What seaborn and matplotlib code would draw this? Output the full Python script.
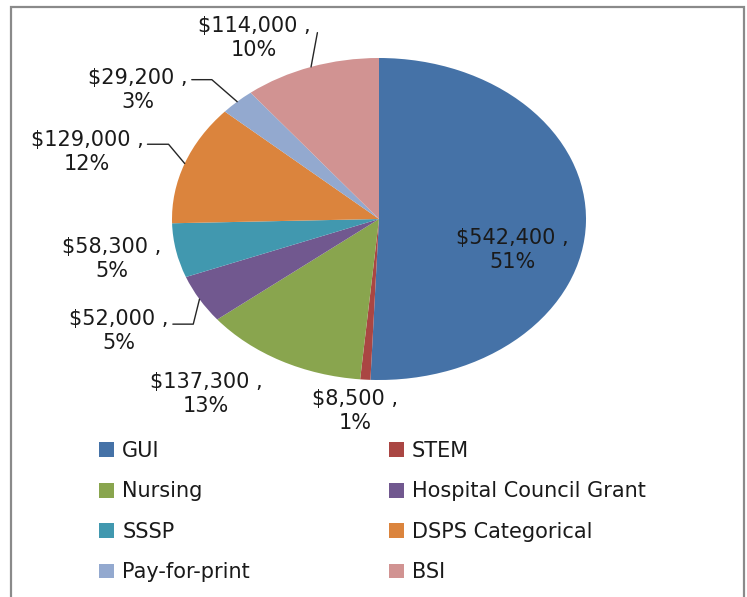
import matplotlib
matplotlib.use("Agg")
import matplotlib.pyplot as plt
import seaborn as sns
import numpy as np
from matplotlib.patches import Patch, Rectangle

# data
categories = ["GUI", "STEM", "Nursing", "Hospital Council Grant", "SSSP",
              "DSPS Categorical", "Pay-for-print", "BSI"]
amounts = [542400, 8500, 137300, 52000, 58300, 129000, 29200, 114000]
percents = [51, 1, 13, 5, 5, 12, 3, 10]
colors = ["#4572A7", "#AA4643", "#89A54E", "#71588F",
          "#4198AF", "#DB843D", "#93A9CF", "#D19392"]

# label centres in pie units (radius = 1)
label_pos = [(0.643, -0.193), (-0.116, -1.193), (-0.836, -1.087), (-1.256, -0.696),
             (-1.290, -0.248), (-1.411, 0.416), (-1.165, 0.801), (-0.604, 1.124)]
# leader lines: (relpos on text, angle of the segment at the slice) or None
leaders = [None, None, None, ((1.0, 0.66), 76), None, ((1.0, 0.68), -50),
           ((1.0, 0.74), -41), ((1.07, 0.72), None)]

sns.set_theme(style="white")
plt.rcParams["font.family"] = ["DejaVu Sans"]
palette = sns.color_palette(colors)
txt_col = "#1a1a1a"
fs = 15

fig = plt.figure(figsize=(7.47, 5.97), dpi=100)
ax = fig.add_axes([120.25 / 747, 176.75 / 597, 517.5 / 747, 402.5 / 597])
wedges, _ = ax.pie(amounts, colors=palette, startangle=90, counterclock=False,
                   wedgeprops=dict(linewidth=0))
ax.set_aspect("auto")
ax.set_xlim(-1.25, 1.25)
ax.set_ylim(-1.25, 1.25)
ax.axis("off")

for i, w in enumerate(wedges):
    label = f"${amounts[i]:,} ,\n{percents[i]}%"
    if leaders[i] is None:
        ax.text(*label_pos[i], label, ha="center", va="center", fontsize=fs,
                color=txt_col, linespacing=1.2)
        continue
    mid = np.deg2rad((w.theta1 + w.theta2) / 2)
    edge = (np.cos(mid), np.sin(mid))
    rel, angB = leaders[i]
    conn = "arc3" if angB is None else f"angle,angleA=0,angleB={angB},rad=0"
    ax.annotate(label, xy=edge, xytext=label_pos[i], ha="center", va="center",
                fontsize=fs, color=txt_col, linespacing=1.2,
                arrowprops=dict(arrowstyle="-", color="#262626", lw=1.0,
                                relpos=rel, connectionstyle=conn,
                                patchA=None, shrinkA=3, shrinkB=0))

# excel legend fills row-wise, matplotlib column-wise
order = [0, 2, 4, 6, 1, 3, 5, 7]
handles = [Patch(facecolor=palette[k], edgecolor="none") for k in order]
fig.legend(handles, [categories[k] for k in order], ncol=2, loc="upper left",
           bbox_to_anchor=(99 / 747, 1 - 441 / 597), frameon=False,
           borderpad=0, borderaxespad=0, fontsize=fs,
           handlelength=0.72, handleheight=0.72, handletextpad=0.4,
           columnspacing=6.65, labelspacing=0.98, labelcolor=txt_col)

# chart area border (open at the bottom, as cropped)
fig.add_artist(Rectangle((11 / 747, -0.05), 733 / 747, 1.05 - 6.5 / 597,
                         transform=fig.transFigure, fill=False,
                         edgecolor="#8a8a8a", lw=1.6))

fig.savefig("out.png", dpi=100)
